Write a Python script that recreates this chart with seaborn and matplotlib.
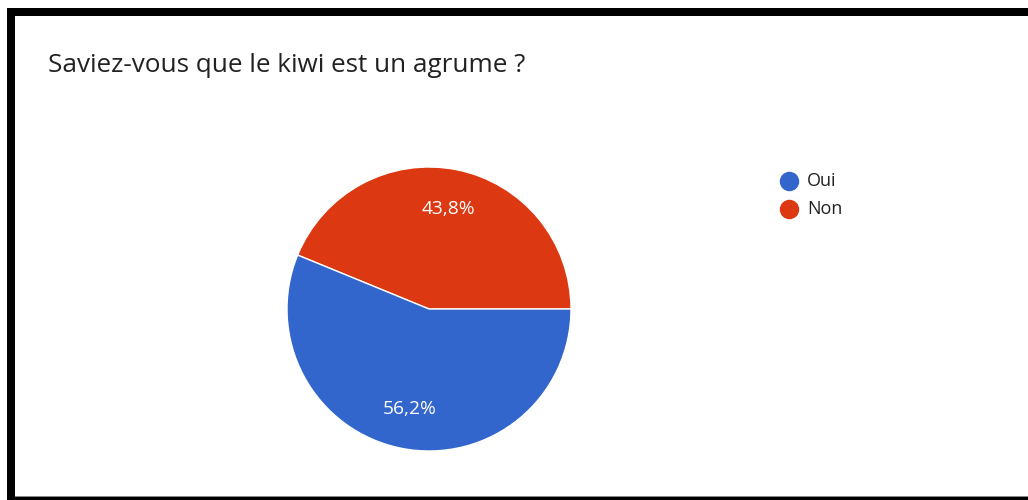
import matplotlib
matplotlib.use("Agg")
import matplotlib.pyplot as plt
from matplotlib.patches import Rectangle
import seaborn as sns

title = "Saviez-vous que le kiwi est un agrume ?"
labels = ["Oui", "Non"]
values = [56.2, 43.8]
colors = ["#3366CC", "#DC3912"]

sns.set_style("white")
plt.rcParams['font.family'] = ['Open Sans', 'DejaVu Sans']

W, H = 1028, 500
fig = plt.figure(figsize=(W / 100, H / 100), dpi=100)
fig.patch.set_facecolor("white")

def px_rect(x0, y0, x1, y1, color):
    # pixel coords from top-left
    fig.add_artist(Rectangle((x0 / W, 1 - y1 / H), (x1 - x0) / W, (y1 - y0) / H,
                             transform=fig.transFigure, facecolor=color,
                             edgecolor="none", zorder=10))

# frame
px_rect(7, 8, W, 16, "black")
px_rect(7, 8, 15, H, "black")
px_rect(15, 496, W, 497, "#888888")
px_rect(7, 497, W, H, "black")

fig.text(48 / W, 1 - 65 / H, title, fontsize=18.8, color="#222222",
         ha="left", va="center")

cx, cy, r = 429, 309, 142
ax = fig.add_axes([(cx - r) / W, (H - cy - r) / H, 2 * r / W, 2 * r / H])
order = [1, 0]  # draw Non first counter-clockwise from 3 o'clock
wedges, texts, autotexts = ax.pie(
    [values[i] for i in order],
    colors=[colors[i] for i in order],
    startangle=0, counterclock=True, radius=1,
    autopct=lambda p: f"{p:.1f}%".replace(".", ","),
    pctdistance=0.72,
    wedgeprops=dict(edgecolor="white", linewidth=1),
    textprops=dict(color="white", fontsize=13.8),
)
ax.set_xlim(-1, 1)
ax.set_ylim(-1, 1)
ax.axis("off")

# legend
for i, (lab, col) in enumerate(zip(labels, colors)):
    y = 181 + i * 28
    fig.add_artist(plt.Line2D([789 / W], [1 - y / H], marker="o", markersize=13,
                              color=col, linestyle="none", transform=fig.transFigure))
    fig.text(807 / W, 1 - y / H, lab, fontsize=13, color="#222222",
             ha="left", va="center")

fig.savefig("out.png", dpi=100, facecolor="white")
